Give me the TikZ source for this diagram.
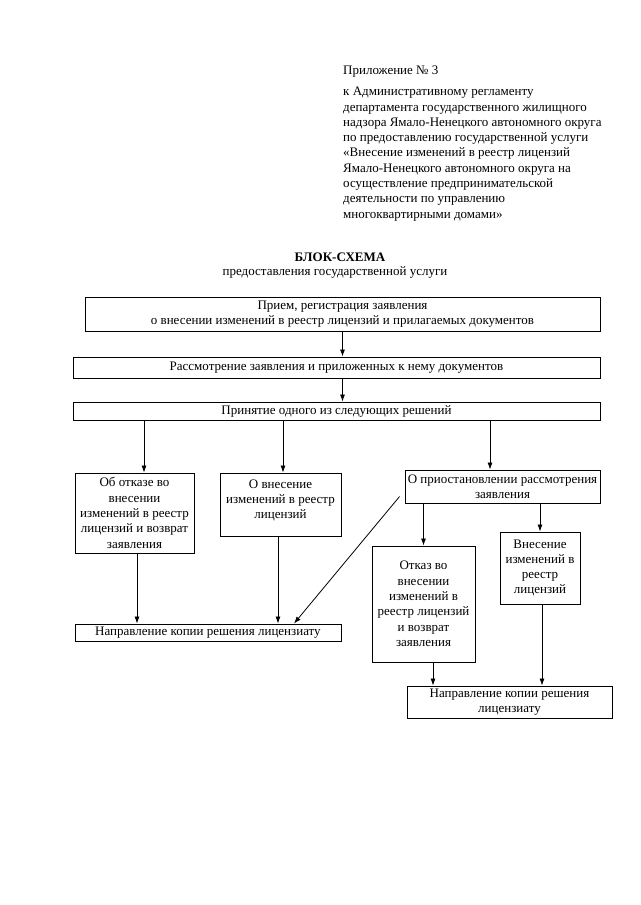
\documentclass[tikz,border=0pt]{standalone}
\usepackage{fontspec}
\setmainfont{Liberation Serif}
\usetikzlibrary{arrows.meta}

\tikzset{
  tekst/.style = {inner sep = 0, font = \fontsize{13}{15.3}\selectfont},
  blok/.style = {draw, line width = 0.9pt, align = center, inner sep = 1pt,
    font = \fontsize{13}{15.3}\selectfont},
  strelka/.style = {-{Latex[length = 7pt, width = 5pt]}, line width = 0.8pt}
}

\begin{document}
\begin{tikzpicture}[x = 1pt, y = -1pt]
  \useasboundingbox (0, 0) rectangle (640, 905);

  % header
  \node[tekst, anchor = base west] (prilozh) at (343, 74) {Приложение № 3};
  \node[tekst, anchor = north west, align = left] (reglament) at (343, 87)
  {к Административному регламенту\\
    департамента государственного жилищного\\
    надзора Ямало-Ненецкого автономного округа\\
    по предоставлению государственной услуги\\
    «Внесение изменений в реестр лицензий\\
    Ямало-Ненецкого автономного округа на\\
    осуществление предпринимательской\\
    деятельности по управлению\\
    многоквартирными домами»};

  \node[tekst, anchor = base, font = \fontsize{13}{15.3}\selectfont\bfseries]
  (zagolovok) at (340, 261) {БЛОК-СХЕМА};
  \node[tekst, anchor = base] (podzag) at (335, 275)
  {предоставления государственной услуги};

  % boxes
  \node[blok, minimum width = 515, minimum height = 34] (priem) at (342.5, 314)
  {Прием, регистрация заявления\\
    о внесении изменений в реестр лицензий и прилагаемых документов};
  \node[blok, minimum width = 527, minimum height = 21] (rassm) at (336.5, 367.5)
  {Рассмотрение заявления и приложенных к нему документов};
  \node[blok, minimum width = 527, minimum height = 18] (prinyatie) at (336.5, 411)
  {Принятие одного из следующих решений};

  \node[blok, minimum width = 119, minimum height = 80] (otkaz) at (134.5, 513)
  {Об отказе во\\внесении\\изменений в реестр\\лицензий и возврат\\заявления};
  \node[blok, minimum width = 121, minimum height = 63] (vnesenie) at (280.5, 504.5)
  {О внесение\\изменений в реестр\\лицензий\\[-5pt]\mbox{}};
  \node[blok, minimum width = 195, minimum height = 33] (priost) at (502.5, 486.5)
  {О приостановлении рассмотрения\\заявления};

  \node[blok, minimum width = 266, minimum height = 17] (kopiya) at (208, 632.5)
  {Направление копии решения лицензиату};

  \node[blok, minimum width = 103, minimum height = 116] (otkazpr) at (423.5, 604)
  {Отказ во\\внесении\\изменений в\\реестр лицензий\\и возврат\\заявления};
  \node[blok, minimum width = 80, minimum height = 72] (vneseniepr) at (540, 568)
  {Внесение\\изменений в\\реестр\\лицензий};

  \node[blok, minimum width = 205, minimum height = 32] (kopiyapr) at (509.5, 702)
  {Направление копии решения\\лицензиату};

  % arrows
  \draw[strelka] (priem.south) -- (priem.south |- rassm.north);
  \draw[strelka] (priem.south |- rassm.south) -- (priem.south |- prinyatie.north);

  \draw[strelka] ([xshift = 9.5]otkaz.north |- prinyatie.south) -- ([xshift = 9.5]otkaz.north);
  \draw[strelka] ([xshift = 2.5]vnesenie.north |- prinyatie.south) -- ([xshift = 2.5]vnesenie.north);
  \draw[strelka] ([xshift = -12.5]priost.north |- prinyatie.south) -- ([xshift = -12.5]priost.north);

  \draw[strelka] ([xshift = 2.5]otkaz.south) -- ([xshift = 2.5]otkaz.south |- kopiya.north);
  \draw[strelka] ([xshift = -2.5]vnesenie.south) -- ([xshift = -2.5]vnesenie.south |- kopiya.north);
  \draw[strelka] ([shift = {(-5pt, -10pt)}]priost.west) -- ([xshift = 86]kopiya.north);

  \draw[strelka] (otkazpr.north |- priost.south) -- (otkazpr.north);
  \draw[strelka] (vneseniepr.north |- priost.south) -- (vneseniepr.north);

  \draw[strelka] ([xshift = 9.5]otkazpr.south) -- ([xshift = 9.5]otkazpr.south |- kopiyapr.north);
  \draw[strelka] ([xshift = 2]vneseniepr.south) -- ([xshift = 2]vneseniepr.south |- kopiyapr.north);
\end{tikzpicture}
\end{document}
